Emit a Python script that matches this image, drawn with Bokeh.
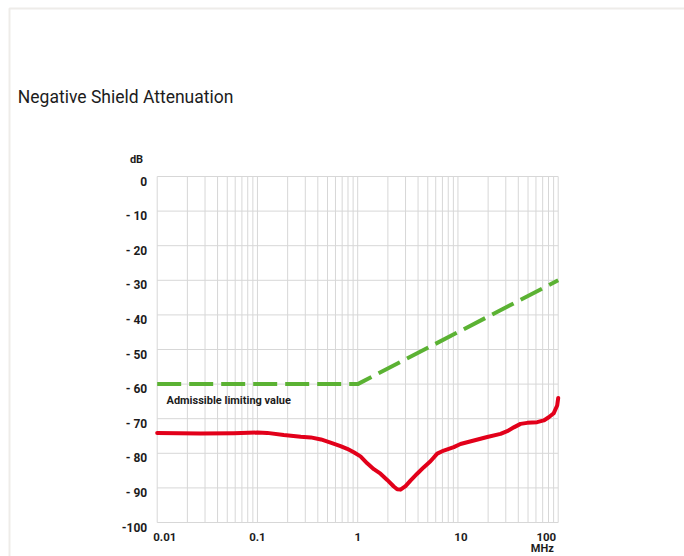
import math
from bokeh.plotting import figure
from bokeh.models import Range1d, Label
from bokeh.embed import file_html
from bokeh.resources import INLINE

# ---------------- data ----------------
title_text = "Negative Shield Attenuation"
y_unit = "dB"
x_unit = "MHz"
limit_label = "Admissible limiting value"

freq_mhz = [0.01, 0.027, 0.058, 0.1, 0.125, 0.183, 0.27, 0.34, 0.43, 0.536, 0.674, 0.786,
            0.914, 1.066, 1.244, 1.448, 1.688, 1.969, 2.29, 2.477, 2.673, 3.0, 3.36, 3.92,
            4.57, 5.32, 6.21, 7.22, 9.09, 10.6, 14.4, 19.6, 26.6, 31.0, 36.1, 42.1, 49.1,
            61.7, 71.8, 80.5, 90.3, 97.7, 100.0]
shield_db = [-74.1, -74.3, -74.2, -74.0, -74.1, -74.7, -75.2, -75.4, -76.0, -76.9, -77.9, -78.7,
             -79.7, -80.9, -82.9, -84.6, -85.9, -87.7, -89.6, -90.4, -90.5, -89.5, -87.9, -85.9,
             -84.0, -82.3, -80.1, -79.2, -78.2, -77.3, -76.3, -75.3, -74.4, -73.6, -72.5, -71.5,
             -71.2, -71.0, -70.5, -69.6, -68.4, -66.2, -64.0]

limit_freq_mhz = [0.01, 1.0, 100.0]
limit_db = [-60, -60, -30]

y_ticks = [0, -10, -20, -30, -40, -50, -60, -70, -80, -90, -100]
y_tick_labels = ["0", "- 10", "- 20", "- 30", "- 40", "- 50", "- 60", "- 70", "- 80", "- 90", "-100"]
x_ticks = [0.01, 0.1, 1, 10, 100]
x_tick_labels = ["0.01", "0.1", "1", "10", "100"]

# ---------------- layout / style ----------------
W, H = 684, 556
PX_L, PX_R, PX_T, PX_B = 156.7, 557.7, 176.0, 522.0   # pixel box of the data area
FONT = "Roboto"
GRID = "#d7d7d7"
CARD = "#eeece9"
TXT = "#1c1c1c"
RED = "#e2001a"
GREEN = "#5bb233"
x_lab_align = ["left", "center", "center", "center", "right"]
x_lab_dx = [-4, 0, 0, 3, -2]

x_lo, x_hi = x_ticks[0], x_ticks[-1]
y_hi, y_lo = y_ticks[0], y_ticks[-1]
dec_px = (PX_R - PX_L) / (math.log10(x_hi) - math.log10(x_lo))
db_px = (PX_B - PX_T) / (y_hi - y_lo)
lx0 = math.log10(x_lo) - PX_L / dec_px
lx1 = math.log10(x_hi) + (W - PX_R) / dec_px
y1 = y_hi + PX_T / db_px
y0 = y_lo - (H - PX_B) / db_px

def px2x(px):
    return 10 ** (lx0 + px / dec_px)

def px2y(py):
    return y1 - py / db_px

p = figure(width=W, height=H, x_axis_type="log", x_axis_location=None, y_axis_location=None,
           x_range=Range1d(10 ** lx0, 10 ** lx1), y_range=Range1d(y0, y1),
           output_backend="svg", toolbar_location=None, title=None,
           min_border=0, min_border_left=0, min_border_right=0, min_border_top=0, min_border_bottom=0)
p.background_fill_color = "white"
p.border_fill_color = "white"
p.outline_line_color = None
p.xgrid.visible = False
p.ygrid.visible = False

# card border
p.line([px2x(9), px2x(9), px2x(W + 5)], [px2y(H + 5), px2y(8), px2y(8)],
       line_color=CARD, line_width=2)

# grid
minor_x = [m * d for d in x_ticks[:-1] for m in range(2, 10)]
vx = x_ticks + minor_x
p.segment(x0=vx, y0=[y_lo] * len(vx), x1=vx, y1=[y_hi] * len(vx), line_color=GRID, line_width=1)
p.segment(x0=[x_lo] * len(y_ticks), y0=y_ticks, x1=[x_hi] * len(y_ticks), y1=y_ticks,
          line_color=GRID, line_width=1)

# series
p.line(limit_freq_mhz, limit_db, line_color=GREEN, line_width=4, line_dash="24 8")
p.line(freq_mhz, shield_db, line_color=RED, line_width=4, line_join="round", line_cap="round")

def lab(x, y, text, dx, dy, size="11.5px", style="bold", align="left"):
    p.add_layout(Label(x=x, y=y, text=text, x_offset=dx, y_offset=dy,
                       text_font=FONT, text_font_size=size, text_font_style=style,
                       text_color=TXT, text_align=align, text_baseline="alphabetic"))

lab(x_lo, y_hi, title_text, -139.4, 79.3, size="17.5px", style="normal")
lab(x_lo, y_hi, y_unit, -20.7, 17, size="11px", align="center")
for yt, tl in zip(y_ticks, y_tick_labels):
    lab(x_lo, yt, tl, -10, -5, size="12px", align="right")
for xt, tl, al, dx in zip(x_ticks, x_tick_labels, x_lab_align, x_lab_dx):
    lab(xt, y_lo, tl, dx, -14.7, align=al)
lab(x_hi, y_lo, x_unit, -4.4, -26.3, size="11px", align="right")
lab(limit_freq_mhz[0], limit_db[0], limit_label, 9.3, -16.4, size="11px")

open("out.html", "w").write(file_html(p, INLINE))
